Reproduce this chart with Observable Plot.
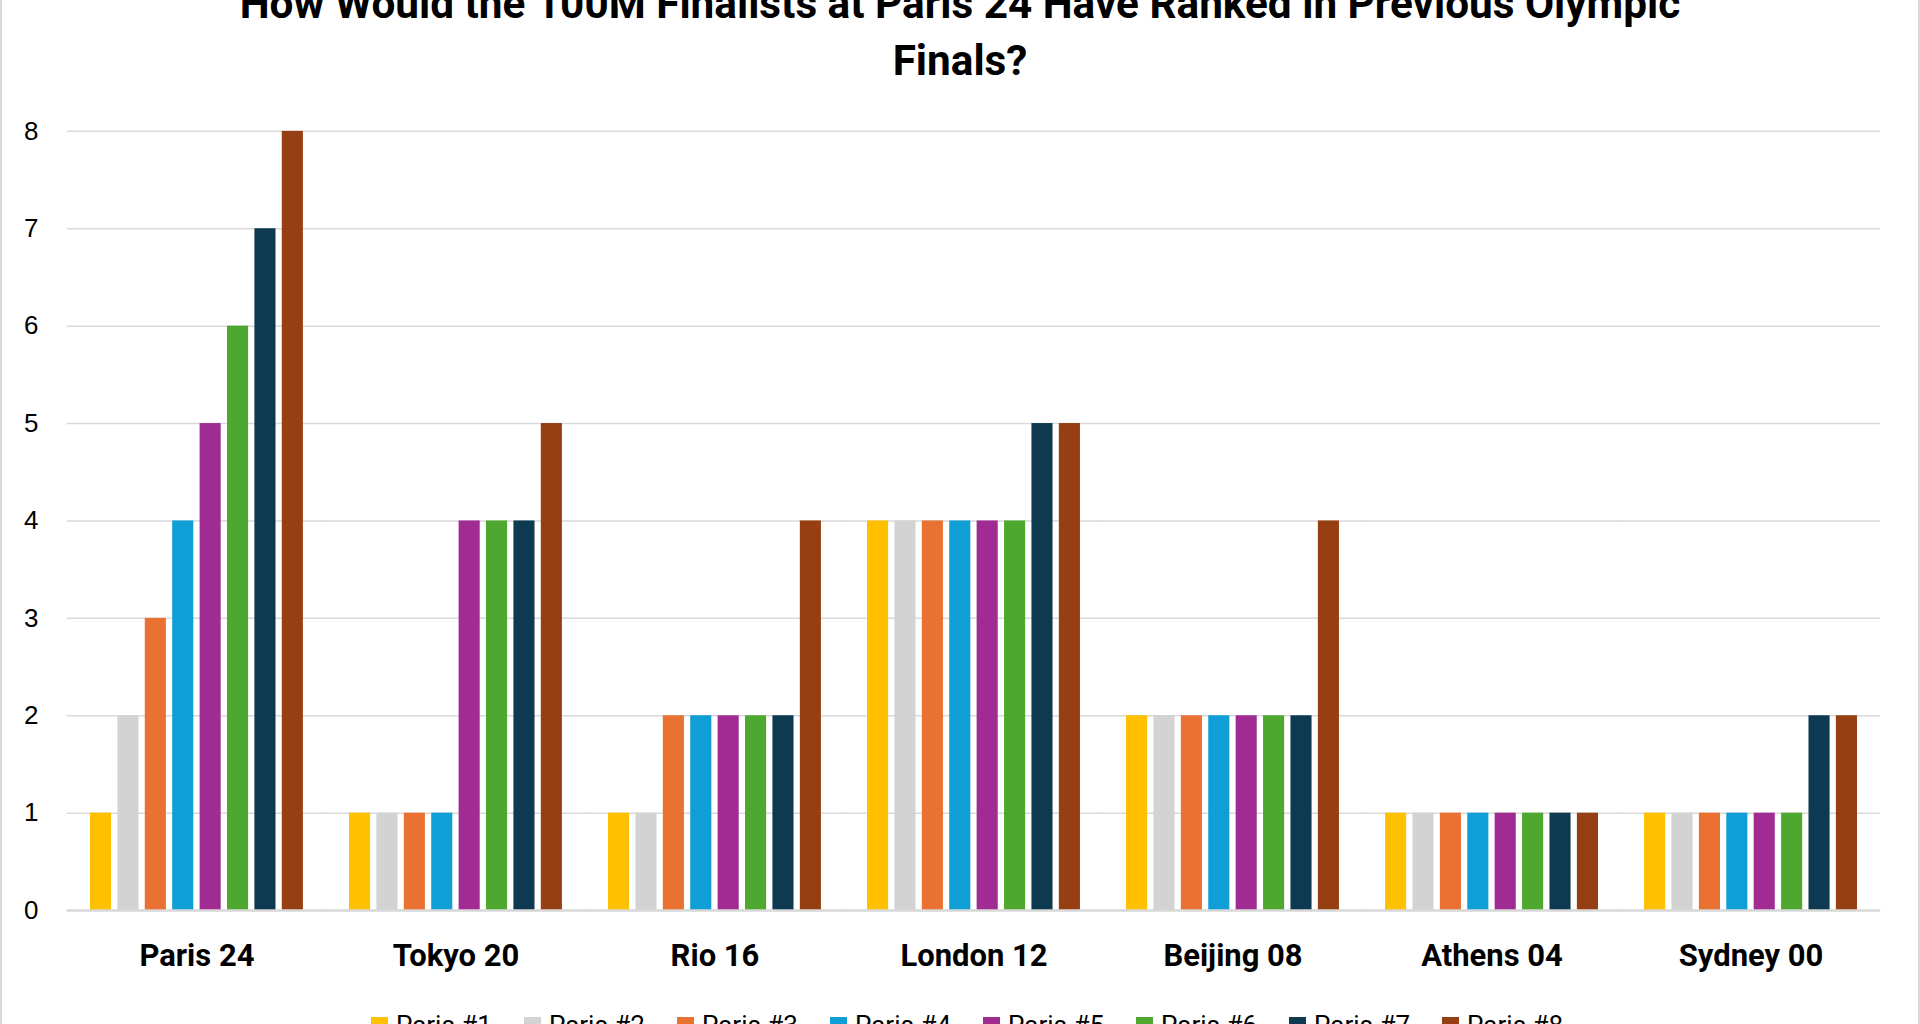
<!DOCTYPE html>
<html>
<head>
<meta charset="utf-8">
<script src="https://cdn.jsdelivr.net/npm/d3@7"></script>
<script src="https://cdn.jsdelivr.net/npm/@observablehq/plot@0.6"></script>
<style>
  html, body { margin: 0; padding: 0; background: #fff; }
  #chart {
    position: relative; width: 1920px; height: 1024px; overflow: hidden;
    box-sizing: border-box; border-left: 2px solid #d9d9d9; border-right: 2px solid #d9d9d9;
    background: #fff;
  }
  #title {
    position: absolute; left: 0; width: 100%; top: -25px;
    display: flex; justify-content: center;
  }
  #title div {
    max-width: 1500px; text-align: center;
    font-family: Roboto, sans-serif; font-weight: bold; font-size: 42.3px; line-height: 57px; color: #000;
  }
  #plot { position: absolute; left: -2px; top: 0; }
  #legend {
    position: absolute; left: 7px; width: 100%; top: 1010px;
    display: flex; justify-content: center; gap: 32px;
    font-family: Roboto, sans-serif; font-size: 26px; color: #000;
  }
  #legend .item { display: flex; align-items: center; gap: 8px; }
  #legend .sw { width: 17px; height: 17px; display: inline-block; }
</style>
</head>
<body>
<div id="chart">
  <div id="title"><div id="titleText"></div></div>
  <div id="plot"></div>
  <div id="legend"></div>
</div>
<script>
const chartTitle = "How Would the 100M Finalists at Paris 24 Have Ranked in Previous Olympic Finals?";
const games = ["Paris 24", "Tokyo 20", "Rio 16", "London 12", "Beijing 08", "Athens 04", "Sydney 00"];
const finalists = ["Paris #1", "Paris #2", "Paris #3", "Paris #4", "Paris #5", "Paris #6", "Paris #7", "Paris #8"];
const colors = ["#ffc000", "#d3d3d3", "#e97132", "#0f9ed5", "#a02b93", "#4ea72e", "#0e3a51", "#963f12"];
// ranks of each Paris finalist in each game's final (one array per game, in finalist order)
const paris24 = [1, 2, 3, 4, 5, 6, 7, 8];
const tokyo20 = [1, 1, 1, 1, 4, 4, 4, 5];
const rio16 = [1, 1, 2, 2, 2, 2, 2, 4];
const london12 = [4, 4, 4, 4, 4, 4, 5, 5];
const beijing08 = [2, 2, 2, 2, 2, 2, 2, 4];
const athens04 = [1, 1, 1, 1, 1, 1, 1, 1];
const sydney00 = [1, 1, 1, 1, 1, 1, 2, 2];
const yTicks = [0, 1, 2, 3, 4, 5, 6, 7, 8];

document.getElementById("titleText").textContent = chartTitle;

const ranksByGame = [paris24, tokyo20, rio16, london12, beijing08, athens04, sydney00];
const rows = [];
games.forEach((g, gi) => finalists.forEach((f, fi) => rows.push({game: g, finalist: f, rank: ranksByGame[gi][fi]})));

// extend gridlines across the gaps between facets so they read as continuous lines
const gridExtend = -23.2;

const plot = Plot.plot({
  width: 1920,
  height: 990,
  marginLeft: 67,
  marginRight: 38,
  marginTop: 131,
  marginBottom: 79,
  style: {fontFamily: "Roboto, sans-serif", color: "#000", background: "transparent"},
  fx: {domain: games, paddingInner: 0.178, paddingOuter: 0.089, round: false, label: null},
  x: {domain: finalists, paddingInner: 0.23, paddingOuter: 0, round: false, axis: null},
  y: {domain: [0, 8], label: null},
  color: {domain: finalists, range: colors},
  marks: [
    Plot.ruleY(yTicks, {y: d => d, stroke: "#d9d9d9", strokeWidth: 1.5, insetLeft: gridExtend, insetRight: gridExtend}),
    Plot.barY(rows, {fx: "game", x: "finalist", y: "rank", fill: "finalist"}),
    Plot.ruleY([0], {stroke: "#d9d9d9", strokeWidth: 2.5, insetLeft: gridExtend, insetRight: gridExtend}),
    Plot.axisY({ticks: yTicks, tickSize: 0, tickPadding: 52, fontSize: 26, fontFamily: "Liberation Sans, Arial, sans-serif", label: null}),
    Plot.axisFx({anchor: "bottom", tickSize: 0, tickPadding: 33, fontSize: 31, fontWeight: "bold", label: null})
  ]
});
document.getElementById("plot").appendChild(plot);

const legend = document.getElementById("legend");
finalists.forEach((f, i) => {
  const item = document.createElement("div");
  item.className = "item";
  const sw = document.createElement("span");
  sw.className = "sw";
  sw.style.background = colors[i];
  const t = document.createElement("span");
  t.textContent = f;
  item.appendChild(sw);
  item.appendChild(t);
  legend.appendChild(item);
});
</script>
</body>
</html>
